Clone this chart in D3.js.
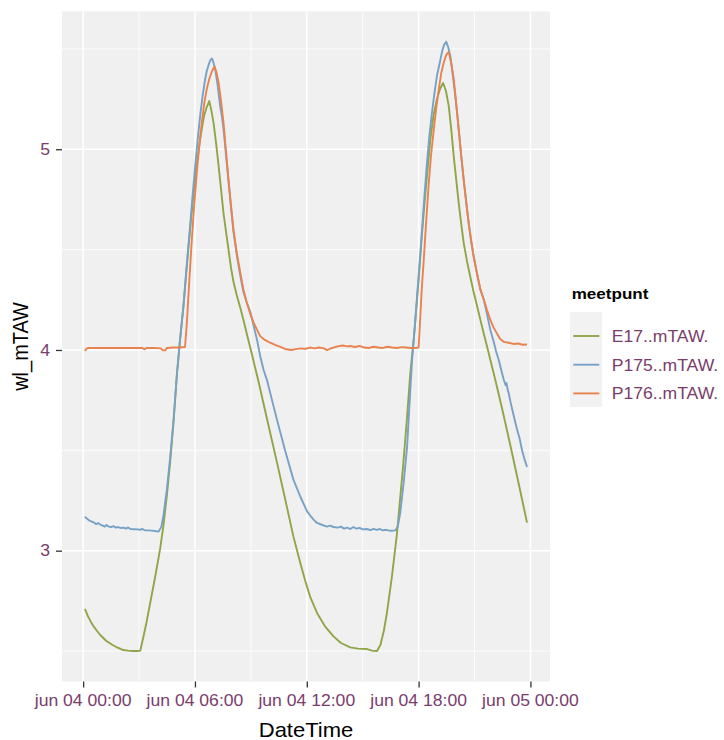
<!DOCTYPE html>
<html><head><meta charset="utf-8">
<script src="https://cdn.jsdelivr.net/npm/d3@7"></script>
<style>body{margin:0;background:#fff}svg{display:block}</style>
</head><body>
<script>
// ---------- DATA ----------
const seriesNames = ["E17..mTAW.", "P175..mTAW.", "P176..mTAW."];
const seriesColors = ["#8fa548", "#78a1c6", "#e8834f"];
const legendTitle = "meetpunt";
const xTitle = "DateTime";
const yTitle = "wl_mTAW";
const dayPrefix = "2016-06-04 ";

const e17Times = ["00:06","00:15","00:25","00:35","00:45","00:55","01:05","01:15","01:25","01:35","01:47","01:59","02:09","02:25","02:40","02:55","03:04","03:14","03:25","03:36","03:52","04:08","04:19","04:30","04:40","04:51","05:02","05:12","05:23","05:34","05:45","05:53","06:01","06:09","06:17","06:24","06:30","06:38","06:46","06:52","07:00","07:08","07:16","07:24","07:32","07:40","07:48","07:56","08:04","08:15","08:26","08:36","08:47","09:00","09:14","09:25","09:50","10:24","10:50","11:17","11:39","11:55","12:11","12:33","13:00","13:26","13:50","14:20","14:45","15:14","15:30","15:46","15:57","16:08","16:18","16:34","16:50","17:10","17:22","17:33","17:44","17:55","18:03","18:11","18:19","18:27","18:38","18:48","18:59","19:09","19:19","19:28","19:37","19:45","19:53","20:01","20:09","20:17","20:25","20:36","20:47","20:57","21:08","21:19","21:30","21:40","21:51","22:07","22:30","22:56","23:20","23:49"];
const e17Levels = [2.71,2.675,2.645,2.62,2.60,2.58,2.565,2.55,2.54,2.53,2.52,2.512,2.505,2.502,2.50,2.50,2.502,2.57,2.65,2.74,2.87,3.01,3.13,3.28,3.44,3.64,3.88,4.05,4.22,4.42,4.61,4.74,4.86,4.96,5.05,5.12,5.17,5.21,5.24,5.20,5.13,5.03,4.92,4.80,4.68,4.59,4.50,4.41,4.34,4.27,4.21,4.15,4.08,4.00,3.91,3.84,3.67,3.44,3.26,3.07,2.94,2.85,2.77,2.69,2.62,2.573,2.54,2.518,2.512,2.51,2.502,2.50,2.53,2.60,2.69,2.87,3.08,3.42,3.65,3.88,4.05,4.25,4.41,4.58,4.73,4.87,5.05,5.17,5.25,5.30,5.33,5.29,5.216,5.10,4.967,4.85,4.734,4.63,4.535,4.44,4.36,4.29,4.22,4.15,4.08,4.02,3.95,3.85,3.70,3.52,3.35,3.14];

const p175Times = ["00:06","00:12","00:20","00:28","00:35","00:42","00:48","00:55","01:03","01:10","01:15","01:22","01:30","01:38","01:45","01:53","02:00","02:10","02:18","02:25","02:32","02:45","02:55","03:04","03:10","03:18","03:30","03:40","03:50","04:03","04:12","04:19","04:30","04:40","04:51","05:02","05:12","05:23","05:34","05:45","05:53","06:01","06:09","06:17","06:25","06:33","06:38","06:44","06:50","06:55","07:00","07:05","07:13","07:21","07:27","07:32","07:40","07:48","07:56","08:04","08:15","08:26","08:36","08:47","08:52","08:58","09:09","09:20","09:30","09:41","09:52","10:08","10:24","10:50","11:17","11:39","12:01","12:11","12:22","12:33","12:50","13:05","13:15","13:26","13:40","13:50","14:00","14:10","14:20","14:30","14:40","14:50","15:00","15:14","15:25","15:35","15:45","15:55","16:05","16:15","16:30","16:45","16:53","17:01","17:12","17:23","17:31","17:39","17:47","17:55","18:03","18:11","18:19","18:27","18:35","18:43","18:51","18:59","19:08","19:16","19:22","19:29","19:35","19:42","19:50","19:58","20:04","20:09","20:17","20:25","20:33","20:41","20:49","20:57","21:08","21:19","21:30","21:40","21:51","22:02","22:10","22:18","22:26","22:34","22:40","22:43","22:47","22:50","22:56","23:05","23:17","23:25","23:33","23:40","23:49"];
const p175Levels = [3.17,3.16,3.15,3.145,3.14,3.132,3.138,3.13,3.125,3.12,3.128,3.12,3.118,3.122,3.115,3.118,3.113,3.115,3.11,3.116,3.108,3.107,3.106,3.104,3.109,3.102,3.101,3.10,3.098,3.095,3.12,3.18,3.31,3.46,3.65,3.88,4.05,4.22,4.43,4.63,4.78,4.92,5.05,5.17,5.27,5.35,5.39,5.42,5.445,5.452,5.43,5.40,5.32,5.216,5.16,5.10,4.97,4.84,4.71,4.59,4.47,4.37,4.29,4.235,4.215,4.19,4.12,4.05,3.97,3.90,3.85,3.75,3.653,3.50,3.354,3.27,3.196,3.175,3.155,3.138,3.128,3.12,3.125,3.118,3.115,3.12,3.11,3.115,3.108,3.118,3.11,3.114,3.106,3.108,3.102,3.109,3.104,3.108,3.101,3.104,3.099,3.101,3.12,3.19,3.34,3.52,3.74,3.95,4.10,4.268,4.43,4.60,4.77,4.934,5.07,5.183,5.28,5.366,5.43,5.49,5.52,5.535,5.51,5.465,5.37,5.266,5.18,5.10,4.97,4.85,4.74,4.634,4.54,4.468,4.38,4.30,4.25,4.18,4.10,4.04,3.99,3.95,3.90,3.853,3.825,3.835,3.80,3.785,3.74,3.68,3.604,3.56,3.50,3.46,3.417];

const p176Times = ["00:06","00:10","00:15","00:40","01:10","01:40","02:10","02:40","03:10","03:18","03:24","03:50","04:10","04:17","04:24","04:30","04:50","05:10","05:28","05:34","05:42","05:50","05:58","06:06","06:14","06:22","06:30","06:38","06:46","06:55","07:03","07:09","07:16","07:24","07:32","07:40","07:48","07:56","08:04","08:15","08:26","08:36","08:47","08:58","09:09","09:20","09:30","09:45","10:02","10:18","10:35","10:50","11:10","11:25","11:40","11:55","12:10","12:25","12:40","12:55","13:05","13:15","13:25","13:40","13:55","14:10","14:20","14:35","14:50","15:05","15:20","15:35","15:50","16:05","16:20","16:35","16:50","17:05","17:20","17:35","17:50","18:00","18:05","18:10","18:16","18:24","18:32","18:40","18:49","18:57","19:05","19:13","19:21","19:29","19:37","19:45","19:53","20:01","20:09","20:17","20:25","20:33","20:41","20:49","20:57","21:08","21:19","21:30","21:40","21:51","22:02","22:13","22:23","22:35","22:50","23:05","23:20","23:35","23:49"];
const p176Levels = [3.995,4.005,4.01,4.01,4.01,4.01,4.01,4.01,4.01,4.003,4.01,4.01,4.008,3.998,3.998,4.01,4.012,4.012,4.015,4.136,4.35,4.551,4.73,4.884,5.02,5.133,5.23,5.30,5.35,5.39,5.412,5.385,5.333,5.24,5.133,4.99,4.85,4.72,4.60,4.48,4.385,4.30,4.235,4.18,4.136,4.10,4.069,4.05,4.036,4.025,4.015,4.005,4.00,4.004,4.008,4.005,4.012,4.008,4.012,4.008,3.999,4.006,4.012,4.018,4.022,4.018,4.02,4.015,4.02,4.012,4.01,4.016,4.012,4.01,4.016,4.012,4.01,4.014,4.012,4.01,4.01,4.012,4.152,4.30,4.435,4.63,4.817,4.97,5.10,5.21,5.30,5.38,5.432,5.47,5.485,5.43,5.349,5.23,5.10,4.97,4.85,4.74,4.634,4.55,4.468,4.38,4.302,4.25,4.20,4.15,4.11,4.08,4.055,4.04,4.036,4.03,4.032,4.026,4.027];

const xTickValues = ["2016-06-04 00:00","2016-06-04 06:00","2016-06-04 12:00","2016-06-04 18:00","2016-06-05 00:00"];
const xTickLabels = ["jun 04 00:00","jun 04 06:00","jun 04 12:00","jun 04 18:00","jun 05 00:00"];
const xMinorValues = ["2016-06-04 03:00","2016-06-04 09:00","2016-06-04 15:00","2016-06-04 21:00"];
const yTickValues = [3, 4, 5];
const yTickLabels = ["3", "4", "5"];
const yMinorValues = [2.5, 3.5, 4.5, 5.5];

// ---------- LAYOUT ----------
const W = 724, H = 740;
const panel = {left: 62, right: 550, top: 11.4, bottom: 681.5};
const FONT = "'Liberation Sans', Arial, sans-serif";
const SX = 1.1; // horizontal glyph stretch of the reference
const tickTextColor = "#7a3d6b";

const parse = d3.timeParse("%Y-%m-%d %H:%M");
const allTimes = [e17Times, p175Times, p176Times];
const allLevels = [e17Levels, p175Levels, p176Levels];
const series = seriesNames.map((name, i) => ({
  name, color: seriesColors[i],
  values: allTimes[i].map((t, j) => ({t: parse(dayPrefix + t), v: allLevels[i][j]}))
}));

const allPts = series.flatMap(s => s.values);
const tExt = d3.extent(allPts, d => d.t);
const vExt = d3.extent(allPts, d => d.v);
const tPad = (tExt[1] - tExt[0]) * 0.052;
const vPad = (vExt[1] - vExt[0]) * 0.05;

const x = d3.scaleTime()
  .domain([new Date(+tExt[0] - tPad), new Date(+tExt[1] + tPad)])
  .range([panel.left, panel.right]);
const y = d3.scaleLinear()
  .domain([vExt[0] - vPad, vExt[1] + vPad])
  .range([panel.bottom, panel.top]);

const svg = d3.select("body").append("svg").attr("width", W).attr("height", H)
  .style("font-family", FONT);
svg.append("rect").attr("width", W).attr("height", H).attr("fill", "#fff");

// panel background
svg.append("rect").attr("x", panel.left).attr("y", panel.top)
  .attr("width", panel.right - panel.left).attr("height", panel.bottom - panel.top)
  .attr("fill", "#f0f0f0");

const grid = svg.append("g");
grid.selectAll(".ymin").data(yMinorValues).join("line")
  .attr("x1", panel.left).attr("x2", panel.right)
  .attr("y1", d => y(d)).attr("y2", d => y(d))
  .attr("stroke", "#fff").attr("stroke-width", 0.8);
grid.selectAll(".xmin").data(xMinorValues.map(parse)).join("line")
  .attr("y1", panel.top).attr("y2", panel.bottom)
  .attr("x1", d => x(d)).attr("x2", d => x(d))
  .attr("stroke", "#fff").attr("stroke-width", 0.8);
grid.selectAll(".ymaj").data(yTickValues).join("line")
  .attr("x1", panel.left).attr("x2", panel.right)
  .attr("y1", d => y(d)).attr("y2", d => y(d))
  .attr("stroke", "#fff").attr("stroke-width", 1.6);
grid.selectAll(".xmaj").data(xTickValues.map(parse)).join("line")
  .attr("y1", panel.top).attr("y2", panel.bottom)
  .attr("x1", d => x(d)).attr("x2", d => x(d))
  .attr("stroke", "#fff").attr("stroke-width", 1.6);

// lines
const line = d3.line().x(d => x(d.t)).y(d => y(d.v));
svg.append("clipPath").attr("id", "clip").append("rect")
  .attr("x", panel.left).attr("y", panel.top)
  .attr("width", panel.right - panel.left).attr("height", panel.bottom - panel.top);
svg.append("g").attr("clip-path", "url(#clip)")
  .selectAll("path").data(series).join("path")
  .attr("d", d => line(d.values))
  .attr("fill", "none").attr("stroke", d => d.color)
  .attr("stroke-width", 1.9).attr("stroke-linejoin", "round");

// axes (tick marks)
const xAxis = d3.axisBottom(x).tickValues(xTickValues.map(parse)).tickSize(6).tickFormat("");
const gx = svg.append("g").attr("transform", `translate(0,${panel.bottom})`).call(xAxis);
gx.select(".domain").remove();
gx.selectAll(".tick line").attr("stroke", "#333").attr("stroke-width", 1.3);

const yAxis = d3.axisLeft(y).tickValues(yTickValues).tickSize(6).tickFormat("");
const gy = svg.append("g").attr("transform", `translate(${panel.left},0)`).call(yAxis);
gy.select(".domain").remove();
gy.selectAll(".tick line").attr("stroke", "#333").attr("stroke-width", 1.3);

function stretchedText(g, tx, ty, str, opts) {
  const t = g.append("text")
    .attr("transform", `translate(${tx},${ty})${opts.rotate ? " rotate(-90) scale(1," + SX + ")" : " scale(" + SX + ",1)"}`)
    .attr("text-anchor", opts.anchor || "start")
    .attr("font-size", opts.size)
    .attr("fill", opts.color || "#000")
    .text(str);
  if (opts.weight) t.attr("font-weight", opts.weight);
  return t;
}

xTickValues.forEach((v, i) => {
  stretchedText(svg, x(parse(v)), 706, xTickLabels[i], {anchor: "middle", size: 16, color: tickTextColor});
});
yTickValues.forEach((v, i) => {
  stretchedText(svg, 50, y(v) + 5.8, yTickLabels[i], {anchor: "end", size: 16, color: tickTextColor});
});

stretchedText(svg, (panel.left + panel.right) / 2, 736.5, xTitle, {anchor: "middle", size: 20, color: "#000"});
stretchedText(svg, 28, (panel.top + panel.bottom) / 2, yTitle, {anchor: "middle", size: 20, color: "#000", rotate: true});

// legend
const lg = svg.append("g");
stretchedText(lg, 571.7, 299.3, legendTitle, {size: 15.5, color: "#000", weight: "bold"});
const keyTop = 312, keyStep = 28.7;
lg.append("rect").attr("x", 570).attr("y", keyTop).attr("width", 32)
  .attr("height", 10 + keyStep * series.length - 1).attr("fill", "#f2f2f2");
series.forEach((s, i) => {
  const cy = 336 + i * keyStep;
  lg.append("line").attr("x1", 573.3).attr("x2", 599.3).attr("y1", cy).attr("y2", cy)
    .attr("stroke", s.color).attr("stroke-width", 1.9);
  stretchedText(lg, 611.7, cy + 6, s.name, {size: 16, color: tickTextColor});
});
</script>
</body></html>
